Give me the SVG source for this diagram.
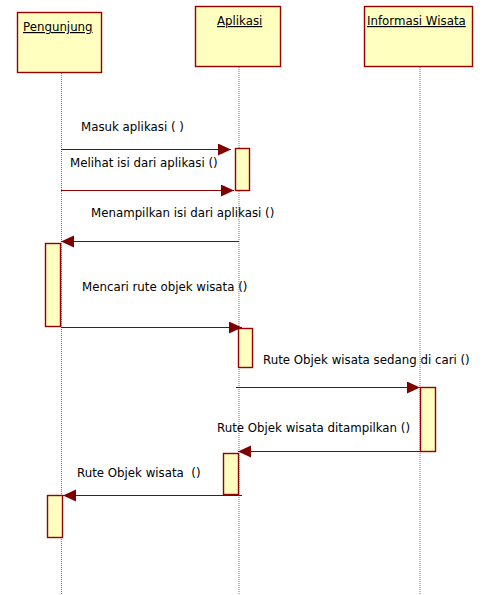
<svg xmlns="http://www.w3.org/2000/svg" width="482" height="595" viewBox="0 0 482 595">
<style>
.box{fill:#FFFFC0;stroke:#990000;stroke-width:1.4}
.life{stroke:#777;stroke-width:1;stroke-dasharray:1,1;fill:none}
.msg{stroke:#8B0000;stroke-width:1;fill:none;marker-end:url(#ah)}
text{font-family:"DejaVu Sans",Verdana,sans-serif;font-size:11.8px;fill:#000}
.title{text-decoration:underline}
</style>
<defs>
<marker id="ah" markerUnits="userSpaceOnUse" markerWidth="14" markerHeight="13" refX="13" refY="6" orient="auto">
<path d="M0,0 L13,6 L0,12 z" fill="#800000"/>
</marker>
</defs>
<g id="lifelines">
<line class="life" x1="61.5" y1="73" x2="61.5" y2="595"/>
<line class="life" x1="239" y1="67" x2="239" y2="595"/>
<line class="life" x1="420" y1="67" x2="420" y2="595"/>
</g>
<g id="pengunjung">
<rect class="box" x="17.5" y="12.5" width="84" height="60"/>
<text class="title" x="23" y="31">Pengunjung</text>
</g>
<g id="aplikasi">
<rect class="box" x="195.5" y="6.5" width="85" height="60"/>
<text class="title" x="217" y="25">Aplikasi</text>
</g>
<g id="informasi">
<rect class="box" x="364.5" y="6.5" width="108" height="60"/>
<text class="title" x="367" y="25">Informasi Wisata</text>
</g>
<g id="activations">
<rect class="box" x="235.5" y="148.5" width="14" height="42"/>
<rect class="box" x="45.5" y="243.5" width="15" height="83"/>
<rect class="box" x="238.5" y="328.5" width="14" height="39"/>
<rect class="box" x="420.5" y="387.5" width="15" height="64"/>
<rect class="box" x="223.5" y="453.5" width="15" height="41"/>
<rect class="box" x="47.5" y="495.5" width="15" height="42"/>
</g>
<g id="connectors">
<line class="msg" x1="61" y1="149.5" x2="231" y2="149.5"/>
<line class="msg" x1="61" y1="190.5" x2="234" y2="190.5"/>
<line class="msg" x1="239" y1="241.5" x2="61" y2="241.5"/>
<line class="msg" x1="61" y1="327.5" x2="242" y2="327.5"/>
<line class="msg" x1="236" y1="387.5" x2="420" y2="387.5"/>
<line class="msg" x1="420" y1="451.5" x2="238" y2="451.5"/>
<line class="msg" x1="242" y1="495.5" x2="63" y2="495.5"/>
</g>
<g id="labels">
<text x="81" y="131">Masuk aplikasi ( )</text>
<text x="70" y="167">Melihat isi dari aplikasi ()</text>
<text x="91" y="217">Menampilkan isi dari aplikasi ()</text>
<text x="82" y="291">Mencari rute objek wisata ()</text>
<text x="263" y="364">Rute Objek wisata sedang di cari ()</text>
<text x="217" y="432">Rute Objek wisata ditampilkan ()</text>
<text x="77" y="477" xml:space="preserve">Rute Objek wisata  ()</text>
</g>
</svg>
